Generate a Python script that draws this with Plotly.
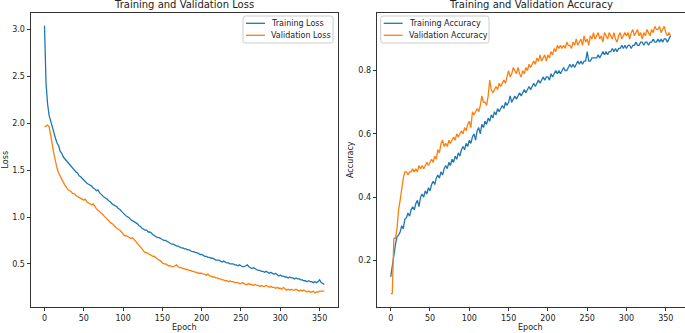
import plotly.graph_objects as go

# Epochs sampled every 2 epochs (0..356)
epochs = list(range(0, 357, 2))

train_loss = [
    3.04, 2.42, 2.20, 2.08, 2.02, 1.95, 1.90, 1.84, 1.79, 1.76,
    1.70, 1.68, 1.64, 1.62, 1.60, 1.57, 1.55, 1.53, 1.52, 1.50,
    1.48, 1.47, 1.44, 1.43, 1.41, 1.40, 1.38, 1.36, 1.35, 1.34,
    1.33, 1.31, 1.30, 1.28, 1.29, 1.26, 1.24, 1.23, 1.21, 1.20,
    1.19, 1.17, 1.16, 1.14, 1.13, 1.12, 1.11, 1.09, 1.08, 1.06,
    1.04, 1.03, 1.01, 1.00, 0.99, 0.97, 0.96, 0.95, 0.94, 0.93,
    0.91, 0.90, 0.88, 0.87, 0.86, 0.86, 0.84, 0.84, 0.83, 0.81,
    0.80, 0.79, 0.78, 0.78, 0.77, 0.76, 0.75, 0.75, 0.74, 0.73,
    0.72, 0.71, 0.71, 0.70, 0.69, 0.69, 0.68, 0.67, 0.67, 0.66,
    0.66, 0.65, 0.65, 0.64, 0.63, 0.63, 0.62, 0.62, 0.61, 0.60,
    0.60, 0.59, 0.58, 0.58, 0.57, 0.57, 0.56, 0.56, 0.55, 0.54,
    0.54, 0.54, 0.53, 0.52, 0.53, 0.52, 0.51, 0.51, 0.50, 0.50,
    0.50, 0.49, 0.49, 0.48, 0.49, 0.48, 0.47, 0.47, 0.48, 0.49,
    0.47, 0.46, 0.45, 0.46, 0.45, 0.44, 0.43, 0.43, 0.42, 0.42,
    0.41, 0.42, 0.41, 0.40, 0.41, 0.40, 0.39, 0.40, 0.38, 0.37,
    0.38, 0.37, 0.37, 0.36, 0.36, 0.35, 0.36, 0.35, 0.35, 0.34,
    0.35, 0.34, 0.34, 0.33, 0.33, 0.32, 0.32, 0.31, 0.32, 0.31,
    0.31, 0.30, 0.31, 0.30, 0.31, 0.33, 0.30, 0.29, 0.28,
]

val_loss = [
    1.96, 1.97, 1.98, 1.96, 1.88, 1.77, 1.67, 1.59, 1.52, 1.47,
    1.43, 1.40, 1.37, 1.34, 1.31, 1.29, 1.28, 1.27, 1.25, 1.25,
    1.23, 1.22, 1.21, 1.20, 1.19, 1.18, 1.19, 1.16, 1.15, 1.14,
    1.13, 1.14, 1.11, 1.09, 1.07, 1.06, 1.04, 1.03, 1.01, 0.99,
    0.97, 0.96, 0.94, 0.93, 0.91, 0.90, 0.88, 0.87, 0.86, 0.84,
    0.82, 0.80, 0.80, 0.79, 0.78, 0.77, 0.78, 0.76, 0.74, 0.72,
    0.70, 0.67, 0.65, 0.63, 0.62, 0.62, 0.61, 0.60, 0.59, 0.58,
    0.58, 0.56, 0.55, 0.54, 0.53, 0.51, 0.50, 0.50, 0.49, 0.48,
    0.48, 0.47, 0.47, 0.48, 0.49, 0.47, 0.46, 0.46, 0.45, 0.45,
    0.44, 0.44, 0.43, 0.43, 0.42, 0.42, 0.41, 0.41, 0.40, 0.40,
    0.40, 0.39, 0.39, 0.38, 0.39, 0.37, 0.37, 0.36, 0.36, 0.35,
    0.35, 0.34, 0.34, 0.33, 0.33, 0.32, 0.32, 0.31, 0.32, 0.31,
    0.31, 0.30, 0.30, 0.30, 0.29, 0.29, 0.30, 0.29, 0.28, 0.28,
    0.29, 0.28, 0.28, 0.27, 0.28, 0.27, 0.27, 0.26, 0.27, 0.26,
    0.26, 0.27, 0.26, 0.25, 0.26, 0.25, 0.25, 0.24, 0.25, 0.24,
    0.24, 0.23, 0.25, 0.23, 0.22, 0.23, 0.22, 0.23, 0.22, 0.22,
    0.23, 0.22, 0.21, 0.22, 0.21, 0.22, 0.21, 0.20, 0.21, 0.20,
    0.20, 0.21, 0.19, 0.20, 0.20, 0.21, 0.21, 0.21, 0.21,
]

train_acc = [
    0.148, 0.19, 0.215, 0.25, 0.275, 0.28, 0.29, 0.31, 0.30, 0.33,
    0.335, 0.35, 0.34, 0.36, 0.37, 0.36, 0.38, 0.39, 0.37, 0.40,
    0.41, 0.40, 0.42, 0.41, 0.43, 0.42, 0.44, 0.45, 0.44, 0.46,
    0.47, 0.46, 0.48, 0.47, 0.49, 0.50, 0.49, 0.51, 0.50, 0.52,
    0.51, 0.53, 0.52, 0.54, 0.53, 0.55, 0.56, 0.55, 0.57, 0.56,
    0.58, 0.57, 0.59, 0.60, 0.58, 0.61, 0.62, 0.60, 0.63, 0.62,
    0.64, 0.63, 0.65, 0.64, 0.66, 0.65, 0.67, 0.66, 0.68, 0.67,
    0.68, 0.69, 0.68, 0.70, 0.69, 0.70, 0.72, 0.70, 0.71, 0.72,
    0.71, 0.72, 0.73, 0.72, 0.73, 0.74, 0.73, 0.74, 0.75, 0.74,
    0.75, 0.76, 0.75, 0.76, 0.77, 0.76, 0.77, 0.78, 0.77, 0.78,
    0.78, 0.77, 0.79, 0.78, 0.79, 0.80, 0.79, 0.80, 0.79, 0.80,
    0.81, 0.80, 0.80, 0.81, 0.82, 0.81, 0.82, 0.81, 0.82, 0.83,
    0.82, 0.83, 0.82, 0.83, 0.83, 0.86, 0.83, 0.83, 0.84, 0.84,
    0.84, 0.84, 0.85, 0.84, 0.85, 0.86, 0.85, 0.86, 0.85, 0.86,
    0.86, 0.87, 0.86, 0.87, 0.86, 0.87, 0.87, 0.88, 0.87, 0.88,
    0.87, 0.88, 0.88, 0.87, 0.88, 0.88, 0.89, 0.88, 0.88, 0.89,
    0.89, 0.88, 0.89, 0.89, 0.88, 0.89, 0.89, 0.90, 0.89, 0.89,
    0.90, 0.89, 0.90, 0.89, 0.90, 0.90, 0.89, 0.90, 0.91,
]

val_acc = [
    0.095, 0.095, 0.27, 0.27, 0.30, 0.36, 0.39, 0.43, 0.46, 0.48,
    0.48, 0.47, 0.48, 0.48, 0.49, 0.48, 0.49, 0.48, 0.50, 0.49,
    0.50, 0.49, 0.50, 0.51, 0.50, 0.51, 0.52, 0.51, 0.53, 0.52,
    0.55, 0.54, 0.57, 0.58, 0.56, 0.57, 0.56, 0.58, 0.57, 0.58,
    0.59, 0.58, 0.60, 0.59, 0.60, 0.61, 0.60, 0.62, 0.61, 0.63,
    0.64, 0.62, 0.67, 0.66, 0.67, 0.68, 0.67, 0.69, 0.72, 0.70,
    0.70, 0.69, 0.72, 0.77, 0.74, 0.73, 0.74, 0.75, 0.74, 0.76,
    0.75, 0.76, 0.77, 0.76, 0.78, 0.80, 0.78, 0.79, 0.81, 0.80,
    0.79, 0.81, 0.79, 0.78, 0.80, 0.79, 0.81, 0.80, 0.82, 0.81,
    0.82, 0.83, 0.82, 0.84, 0.83, 0.85, 0.83, 0.84, 0.85, 0.83,
    0.85, 0.84, 0.86, 0.85, 0.87, 0.86, 0.88, 0.87, 0.88, 0.87,
    0.88, 0.87, 0.89, 0.88, 0.88, 0.87, 0.89, 0.88, 0.90, 0.88,
    0.89, 0.90, 0.88, 0.91, 0.89, 0.90, 0.88, 0.91, 0.90, 0.92,
    0.90, 0.91, 0.92, 0.90, 0.91, 0.89, 0.92, 0.91, 0.90, 0.92,
    0.91, 0.90, 0.92, 0.90, 0.89, 0.91, 0.92, 0.90, 0.91, 0.92,
    0.91, 0.92, 0.90, 0.92, 0.93, 0.91, 0.92, 0.93, 0.91, 0.92,
    0.90, 0.92, 0.91, 0.93, 0.92, 0.91, 0.93, 0.92, 0.94, 0.93,
    0.93, 0.94, 0.92, 0.93, 0.94, 0.92, 0.91, 0.92, 0.91,
]

loss_ticks = [0.5, 1.0, 1.5, 2.0, 2.5, 3.0]
acc_ticks = [0.2, 0.4, 0.6, 0.8]
epoch_ticks = [0, 50, 100, 150, 200, 250, 300, 350]

BLUE = "#1f77b4"
ORANGE = "#ff7f0e"
FONT = "DejaVu Sans"
TXT = "#222222"
W, H = 685, 333

fig = go.Figure()
fig.add_trace(go.Scatter(x=epochs, y=train_loss, mode="lines", name="Training Loss",
                         line=dict(color=BLUE, width=1.3), xaxis="x", yaxis="y"))
fig.add_trace(go.Scatter(x=epochs, y=val_loss, mode="lines", name="Validation Loss",
                         line=dict(color=ORANGE, width=1.3), xaxis="x", yaxis="y"))
fig.add_trace(go.Scatter(x=epochs, y=train_acc, mode="lines", name="Training Accuracy",
                         line=dict(color=BLUE, width=1.3), xaxis="x2", yaxis="y2"))
fig.add_trace(go.Scatter(x=epochs, y=val_acc, mode="lines", name="Validation Accuracy",
                         line=dict(color=ORANGE, width=1.3), xaxis="x2", yaxis="y2"))


def px_x(p):
    return p / W


def px_y(p):
    return (H - p) / H


axis_common = dict(showgrid=False, zeroline=False, showline=True, mirror=True,
                   linecolor="#333333", linewidth=1, ticks="outside", ticklen=3,
                   tickwidth=1, tickcolor="#333333", automargin=False,
                   tickfont=dict(family=FONT, size=8, color=TXT))

y_dom = [px_y(307), px_y(12.7)]
fig.update_layout(
    width=W, height=H, autosize=False,
    margin=dict(l=0, r=0, t=0, b=0, pad=0),
    paper_bgcolor="white", plot_bgcolor="white",
    font=dict(family=FONT, size=8, color=TXT),
    showlegend=False,
    xaxis=dict(domain=[px_x(30.5), px_x(338.3)], range=[-17.8, 373.8],
               tickvals=epoch_ticks, anchor="y", **axis_common),
    yaxis=dict(domain=y_dom, range=[0.04, 3.18], tickvals=loss_ticks,
               tickformat=".1f", anchor="x", **axis_common),
    xaxis2=dict(domain=[px_x(376.7), px_x(684.5)], range=[-17.8, 373.8],
                tickvals=epoch_ticks, anchor="y2", **axis_common),
    yaxis2=dict(domain=y_dom, range=[0.053, 0.983], tickvals=acc_ticks,
                tickformat=".1f", anchor="x2", **axis_common),
)

annotations = [
    dict(text="Training and Validation Loss", x=px_x(184.4), y=px_y(5), xref="paper", yref="paper",
         showarrow=False, font=dict(family=FONT, size=10, color=TXT), xanchor="center", yanchor="middle"),
    dict(text="Training and Validation Accuracy", x=px_x(530.6), y=px_y(5), xref="paper", yref="paper",
         showarrow=False, font=dict(family=FONT, size=10, color=TXT), xanchor="center", yanchor="middle"),
    dict(text="Epoch", x=px_x(184.4), y=px_y(327), xref="paper", yref="paper",
         showarrow=False, font=dict(family=FONT, size=8, color=TXT), xanchor="center", yanchor="middle"),
    dict(text="Epoch", x=px_x(530.6), y=px_y(327), xref="paper", yref="paper",
         showarrow=False, font=dict(family=FONT, size=8, color=TXT), xanchor="center", yanchor="middle"),
    dict(text="Loss", x=px_x(4.5), y=px_y(160), xref="paper", yref="paper", textangle=-90,
         showarrow=False, font=dict(family=FONT, size=8, color=TXT), xanchor="center", yanchor="middle"),
    dict(text="Accuracy", x=px_x(350), y=px_y(160), xref="paper", yref="paper", textangle=-90,
         showarrow=False, font=dict(family=FONT, size=8, color=TXT), xanchor="center", yanchor="middle"),
]


def rounded_box(x0, y0, x1, y1, r=2.5):
    # pixel coords -> paper path with rounded corners
    X = px_x
    Y = px_y
    return (f"M {X(x0 + r)},{Y(y0)} L {X(x1 - r)},{Y(y0)} Q {X(x1)},{Y(y0)} {X(x1)},{Y(y0 + r)} "
            f"L {X(x1)},{Y(y1 - r)} Q {X(x1)},{Y(y1)} {X(x1 - r)},{Y(y1)} "
            f"L {X(x0 + r)},{Y(y1)} Q {X(x0)},{Y(y1)} {X(x0)},{Y(y1 - r)} "
            f"L {X(x0)},{Y(y0 + r)} Q {X(x0)},{Y(y0)} {X(x0 + r)},{Y(y0)} Z")


shapes = []


def add_legend(x0, x1, y0, y1, entries):
    shapes.append(dict(type="path", path=rounded_box(x0, y0, x1, y1), xref="paper", yref="paper",
                       line=dict(color="#cccccc", width=1), fillcolor="rgba(255,255,255,0.8)", layer="above"))
    for i, (label, color) in enumerate(entries):
        yy = y0 + 7.3 + 12 * i
        shapes.append(dict(type="line", xref="paper", yref="paper",
                           x0=px_x(x0 + 3), x1=px_x(x0 + 22), y0=px_y(yy), y1=px_y(yy),
                           line=dict(color=color, width=1.3), layer="above"))
        annotations.append(dict(text=label, x=px_x(x0 + 26), y=px_y(yy), xref="paper", yref="paper",
                                showarrow=False, xanchor="left", yanchor="middle",
                                font=dict(family=FONT, size=8, color=TXT)))


add_legend(243, 333, 16, 43, [("Training Loss", BLUE), ("Validation Loss", ORANGE)])
add_legend(380.7, 489, 16, 43, [("Training Accuracy", BLUE), ("Validation Accuracy", ORANGE)])

fig.update_layout(annotations=annotations, shapes=shapes)

fig.write_html("out.html",
               config={"displayModeBar": False},
               post_script="document.body.style.margin='0';document.body.style.padding='0';")
